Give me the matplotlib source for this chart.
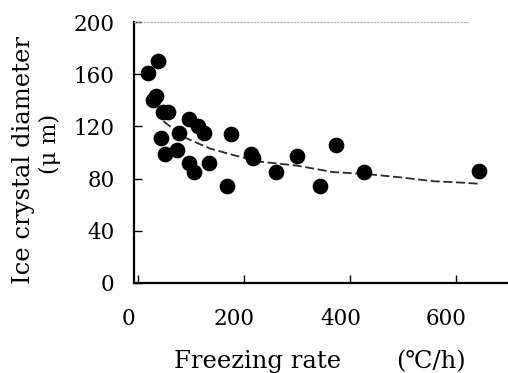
import matplotlib
matplotlib.use("Agg")
import matplotlib.pyplot as plt
from matplotlib.transforms import ScaledTranslation

# Data
freezing_rate = [20, 38, 30, 34, 49, 57, 44, 52, 78, 75, 97, 115, 125, 98, 106, 135,
                 176, 169, 215, 218, 262, 301, 344, 375, 427, 645]
crystal_diam = [161, 170, 140, 143, 131, 131, 111, 99, 115, 102, 126, 120, 115, 92, 85, 92,
                114, 74, 99, 96, 85, 97, 74, 106, 85, 86]

# Dashed trend line
trend_x = [49, 86, 137, 181, 231, 300, 369, 432, 495, 558, 608, 646]
trend_y = [124, 112, 103, 98, 93, 90, 85, 83.5, 81, 78, 77, 76]

x_ticks = [0, 200, 400, 600]
y_ticks = [0, 40, 80, 120, 160, 200]

fig = plt.figure(figsize=(5.08, 3.73), dpi=100)
ax = fig.add_axes([0.2638, 0.2413, 0.7362, 0.6997])

ax.plot(trend_x, trend_y, linestyle=(0, (5, 2)), color="#2a2a2a", lw=1.3, zorder=2)
ax.plot(freezing_rate, crystal_diam, "o", color="black", markersize=10.3, zorder=3)

ax.set_xlim(-6.6, 699)
ax.set_ylim(0, 200)
ax.set_xticks(x_ticks)
ax.set_yticks(y_ticks)

font = {"family": ["DejaVu Serif"], "size": 15.5}
ax.set_xticklabels([str(v) for v in x_ticks], **font)
ax.set_yticklabels([str(v) for v in y_ticks], **font)

ax.tick_params(axis="both", direction="in", length=6, width=1.0, color="black")
ax.tick_params(axis="y", pad=14)
ax.tick_params(axis="x", pad=18)

for lbl in ax.get_xticklabels():
    lbl.set_transform(lbl.get_transform() + ScaledTranslation(-9 / 100, 0, fig.dpi_scale_trans))

ax.spines["right"].set_visible(False)
ax.spines["top"].set_linestyle((0, (1, 2)))
ax.spines["top"].set_color("#aaaaaa")
ax.spines["top"].set_bounds(-6.6, 623)
ax.spines["left"].set_linewidth(1.6)
ax.spines["bottom"].set_linewidth(1.6)

# Axis titles
fig.text(24 / 508, 1 - 160 / 373, "Ice crystal diameter", rotation=90,
         ha="center", va="center", family=["DejaVu Serif"], size=17.5)
fig.text(50 / 508, 1 - 144 / 373, "(μ m)", rotation=90,
         ha="center", va="center", family=["DejaVu Serif"], size=16)
fig.text(258 / 508, 1 - 368 / 373, "Freezing rate", ha="center", va="baseline",
         family=["DejaVu Serif"], size=17.5)
fig.text(431 / 508, 1 - 368 / 373, "(℃/h)", ha="center", va="baseline",
         family=["DejaVu Serif", "Noto Sans CJK JP"], size=17.5)

fig.savefig("out.png", dpi=100)
